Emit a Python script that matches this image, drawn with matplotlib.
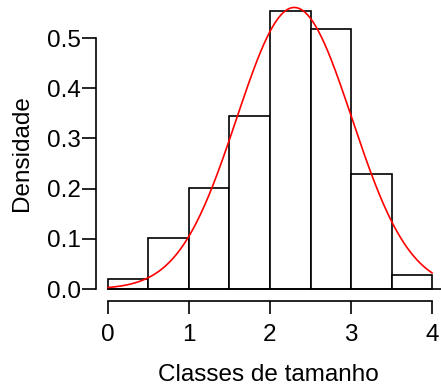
import numpy as np
import matplotlib.pyplot as plt

plt.rcParams['font.family'] = ['Liberation Sans', 'DejaVu Sans']

# histogram classes (width 0.5) and densities
bin_edges = [0.0, 0.5, 1.0, 1.5, 2.0, 2.5, 3.0, 3.5, 4.0]
densities = [0.020, 0.101, 0.202, 0.344, 0.554, 0.519, 0.230, 0.027]

# fitted normal curve parameters
curve_mean = 2.30
curve_sd = 0.711

x_ticks = [0, 1, 2, 3, 4]
y_ticks = [0.0, 0.1, 0.2, 0.3, 0.4, 0.5]

fig = plt.figure(figsize=(4.41, 3.88), dpi=100)
W, H = 441, 388
ax = fig.add_axes([96 / W, (H - 301) / H, 345 / W, 296 / H])

lefts = np.array(bin_edges[:-1])
widths = np.diff(bin_edges)
ax.bar(lefts, densities, width=widths, align='edge', facecolor='white',
       edgecolor='black', linewidth=1.2, zorder=2)
ax.plot([bin_edges[0], 4.2], [0, 0], color='black', linewidth=1.2, zorder=2,
        clip_on=False)

xs = np.linspace(bin_edges[0], bin_edges[-1], 300)
ys = np.exp(-0.5 * ((xs - curve_mean) / curve_sd) ** 2) / (curve_sd * np.sqrt(2 * np.pi))
ax.plot(xs, ys, color='red', linewidth=1.2, zorder=3, clip_on=False)

ax.set_xlim(-0.148, 4.111)
ax.set_ylim(-0.0239, 0.566)

for s in ['top', 'right']:
    ax.spines[s].set_visible(False)
ax.spines['left'].set_bounds(0, 0.5)
ax.spines['bottom'].set_bounds(0, 4)
for s in ['left', 'bottom']:
    ax.spines[s].set_linewidth(1.2)

ax.set_xticks(x_ticks)
ax.set_xticklabels([str(t) for t in x_ticks])
ax.set_yticks(y_ticks)
ax.set_yticklabels(['%.1f' % t for t in y_ticks])
ax.tick_params(axis='both', direction='out', width=1.2, labelsize=17.5)
ax.tick_params(axis='x', length=9.5, pad=7)
ax.tick_params(axis='y', length=10, pad=1)

ax.set_xlabel('Classes de tamanho', fontsize=17.5, labelpad=13)
ax.set_ylabel('Densidade', fontsize=17.5, labelpad=10)

fig.savefig('out.png', dpi=100)
